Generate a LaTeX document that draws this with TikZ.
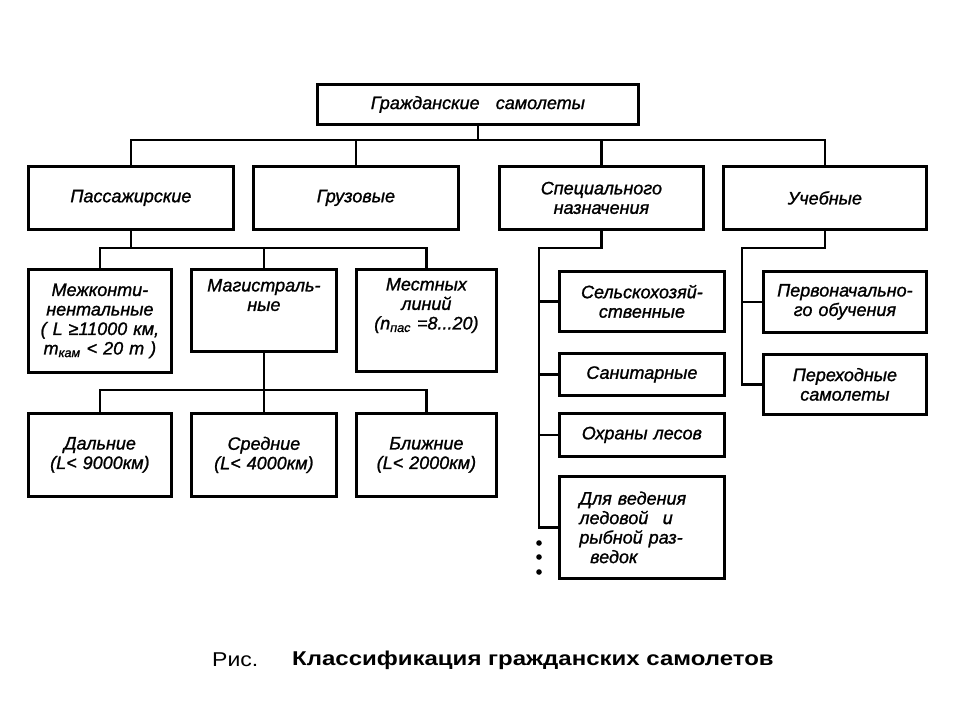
\documentclass[tikz,border=0pt]{standalone}
\usepackage{fontspec}
\setmainfont{Liberation Sans}
\usetikzlibrary{calc}

\begin{document}
\begin{tikzpicture}[x=1pt, y=-1pt,
	blk/.style={draw, line width=2.8pt, anchor=north west, inner xsep=0pt, inner ysep=0pt, align=center, font=\itshape\addfontfeatures{FakeBold=1.2}\fontsize{18}{19.5}\selectfont},
	lnk/.style={line width=2.6pt}]
	\useasboundingbox (0,0) rectangle (960,720);

	\node [blk, text width=321pt, minimum height=40pt] (civil) at (316,83) {Гражданские\hspace{0.9em}самолеты};

	\node [blk, text width=205pt, minimum height=63pt] (pass) at (27,165) {Пассажирские};
	\node [blk, text width=205pt, minimum height=63pt] (gruz) at (252,165) {Грузовые};
	\node [blk, text width=204pt, minimum height=63pt] (spec) at (498,165) {Специального\\назначения};
	\node [blk, text width=203pt, minimum height=63pt] (ucheb) at (722,165) {Учебные};

	\node [blk, text width=143pt, minimum height=103pt] (mezh) at (27,268) {Межконти-\\нентальные\\( L ≥11000 км,\\ m\textsubscript{кам} < 20 т )};
	\node [blk, text width=145pt, text height=22pt, text depth=60pt] (magis) at (190,268) {Магистраль-\\ные};
	\node [blk, text width=140pt, text height=21pt, text depth=81pt] (mestn) at (355,268) {Местных\\линий\\(n\textsubscript{пас} =8...20)};

	\node [blk, text width=143pt, minimum height=83pt] (daln) at (27,412) {Дальние\\(L< 9000км)};
	\node [blk, text width=145pt, minimum height=83pt] (sredn) at (190,412) {Средние\\(L< 4000км)};
	\node [blk, text width=140pt, minimum height=83pt] (blizh) at (355,412) {Ближние\\(L< 2000км)};

	\node [blk, text width=165pt, minimum height=60pt] (selsk) at (558,270) {Сельскохозяй-\\ственные};
	\node [blk, text width=165pt, minimum height=42pt] (sanit) at (558,352) {Санитарные};
	\node [blk, text width=165pt, minimum height=43pt] (ohran) at (558,412) {Охраны лесов};
	\node [blk, align=left, inner xsep=20pt, text width=125pt, minimum height=102pt] (dlya) at (558,475) {Для ведения\\ледовой\hspace{0.8em}и\\рыбной раз-\\\hspace{0.6em}ведок};

	\node [blk, text width=163pt, minimum height=61pt] (perv) at (762,270) {Первоначально-\\го обучения};
	\node [blk, text width=163pt, minimum height=60pt] (pereh) at (762,353) {Переходные\\самолеты};

	\coordinate (b1) at (0,140);
	\coordinate (b2) at (0,248);
	\coordinate (b3) at (0,390);
	\coordinate (sp) at (539,248);
	\coordinate (up) at (742,248);

	\draw [lnk] (civil.south) -- (civil.south |- b1);
	\draw [lnk] (pass.north) |- (civil.south |- b1) -| (ucheb.north);
	\foreach \n in {gruz, spec}
		\draw [lnk] (\n.north) -- (\n.north |- b1);

	\draw [lnk] (pass.south) -- (pass.south |- b2);
	\draw [lnk] (mezh.north) |- (magis.north |- b2) -| (mestn.north);
	\draw [lnk] (magis.north) -- (magis.north |- b2);

	\draw [lnk] (magis.south) -- (magis.south |- b3);
	\draw [lnk] (daln.north) |- (sredn.north |- b3) -| (blizh.north);
	\draw [lnk] (sredn.north) -- (sredn.north |- b3);

	\draw [lnk] (spec.south) |- (sp) |- (dlya.west);
	\foreach \n in {selsk, sanit, ohran}
		\draw [lnk] (\n.west) -- (sp |- \n.west);
	\foreach \y in {543, 557, 572}
		\fill (539,\y) circle (2.8pt);

	\draw [lnk] (ucheb.south) |- (up) |- (pereh.west);
	\draw [lnk] (perv.west) -- (up |- perv.west);

	\node [anchor=west, inner sep=0pt, font=\fontsize{20}{24}\selectfont] (ris) at (212,660) {\scalebox{1.15}[1]{Рис.}};
	\node [anchor=west, inner sep=0pt, font=\bfseries\fontsize{20}{24}\selectfont] (capt) at (292,660) {\scalebox{1.2}[1]{Классификация гражданских самолетов}};
\end{tikzpicture}
\end{document}
